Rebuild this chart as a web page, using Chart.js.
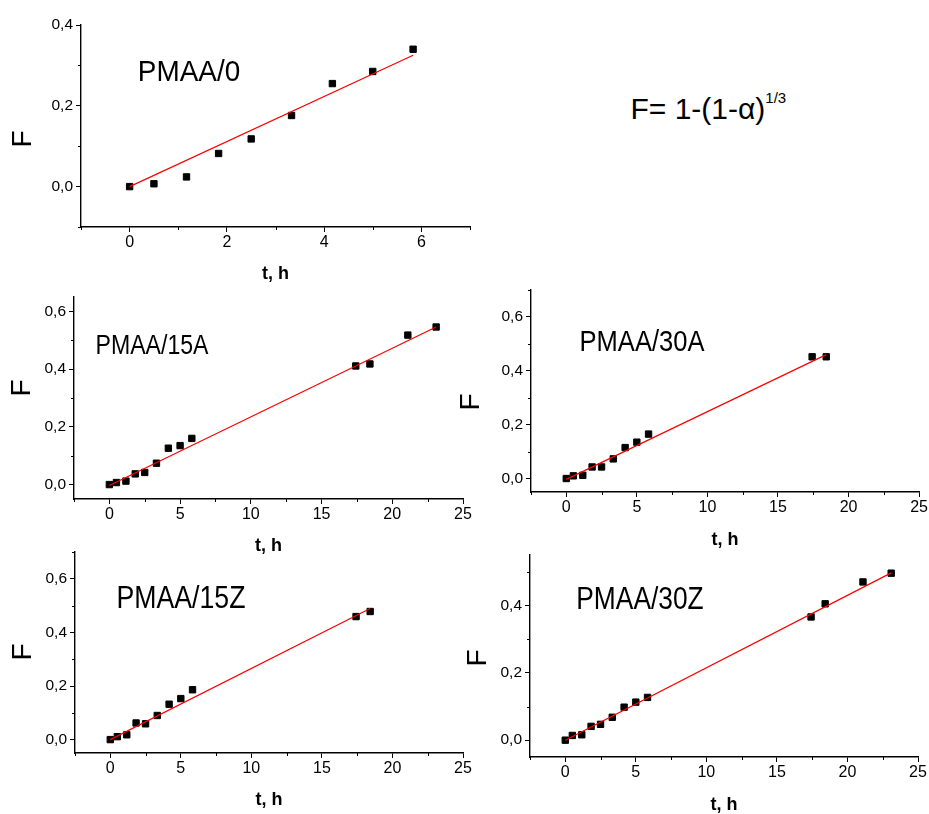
<!DOCTYPE html>
<html>
<head>
<meta charset="utf-8">
<script src="https://cdn.jsdelivr.net/npm/chart.js@4/dist/chart.umd.min.js"></script>
<style>
  html, body { margin:0; padding:0; background:#fff; width:929px; height:814px; overflow:hidden; }
  canvas { position:absolute; }
  .lbl { position:absolute; font-family:"Liberation Sans", Arial, sans-serif; color:#000; line-height:1; white-space:nowrap; }
</style>
</head>
<body>
<canvas id="c1"></canvas>
<canvas id="c2"></canvas>
<canvas id="c3"></canvas>
<canvas id="c4"></canvas>
<canvas id="c5"></canvas>
<div id="labels"></div>
<script>
// ---------------- DATA ----------------
const panelNames = ['PMAA/0', 'PMAA/15A', 'PMAA/30A', 'PMAA/15Z', 'PMAA/30Z'];
const xTitle = 't, h';
const yTitle = 'F';

const tShort  = [0, 0.5, 1.17, 1.83, 2.5, 3.33, 4.17, 5, 5.83];
const tMedium = [0, 0.5, 1.17, 1.83, 2.5, 3.33, 4.17, 5, 5.83, 17.42, 18.42];
const tLong   = [0, 0.5, 1.17, 1.83, 2.5, 3.33, 4.17, 5, 5.83, 17.42, 18.42, 21.1, 23.1];

const fPMAA0   = [0, 0.007, 0.024, 0.082, 0.118, 0.176, 0.255, 0.285, 0.34];
const fPMAA15A = [0, 0.007, 0.012, 0.037, 0.042, 0.074, 0.126, 0.135, 0.16, 0.411, 0.418, 0.518, 0.546];
const fPMAA30A = [0, 0.01, 0.012, 0.043, 0.043, 0.073, 0.115, 0.135, 0.165, 0.452, 0.452];
const fPMAA15Z = [0, 0.011, 0.018, 0.062, 0.059, 0.09, 0.132, 0.153, 0.186, 0.459, 0.478];
const fPMAA30Z = [0, 0.014, 0.016, 0.041, 0.047, 0.068, 0.098, 0.113, 0.127, 0.366, 0.405, 0.47, 0.496];

// fitted lines (end points)
const fitT0   = [0, 5.83];  const fitF0   = [0, 0.325];
const fitT15A = [0, 23.1];  const fitF15A = [-0.003, 0.546];
const fitT30A = [0, 18.42]; const fitF30A = [-0.003, 0.46];
const fitT15Z = [0, 18.42]; const fitF15Z = [0, 0.489];
const fitT30Z = [0, 23.1];  const fitF30Z = [0, 0.497];

// tick values
const xMajorShort = [0, 2, 4, 6];
const xMinorShort = [-1, 1, 3, 5, 7];
const xMajorLong  = [0, 5, 10, 15, 20, 25];
const xMinorLong  = [-2.5, 2.5, 7.5, 12.5, 17.5, 22.5];
const yMajor04 = [0, 0.2, 0.4];
const yMinor04 = [-0.1, 0.1, 0.3];
const yMajor06 = [0, 0.2, 0.4, 0.6];
const yMinor065 = [0.1, 0.3, 0.5];
const yMinor07 = [0.1, 0.3, 0.5, 0.7];
const yMajor05 = [0, 0.2, 0.4];
const yMinor055 = [0.1, 0.3, 0.5];

const formulaMain = 'F= 1-(1-\u03B1)';
const formulaSup = '1/3';

// ---------------- LAYOUT ----------------
const FONT = '"Liberation Sans", Arial, sans-serif';
const panels = [
  { id:'c1', t:tShort,  f:fPMAA0,   ft:fitT0,   ff:fitF0,   xr:[-1,7],    yr:[-0.1,0.4],
    xMaj:xMajorShort, xMin:xMinorShort, yMaj:yMajor04, yMin:yMinor04,
    canvas:{l:0, t:0, w:480, h:297},   plot:{l:81, r:470, t:25, b:227},  xTitleMid:273.7 },
  { id:'c2', t:tLong,   f:fPMAA15A, ft:fitT15A, ff:fitF15A, xr:[-2.5,25], yr:[-0.05,0.65],
    xMaj:xMajorLong, xMin:xMinorLong, yMaj:yMajor06, yMin:yMinor065,
    canvas:{l:0, t:280, w:480, h:289}, plot:{l:74, r:463, t:297, b:499}, xTitleMid:546 },
  { id:'c3', t:tMedium, f:fPMAA30A, ft:fitT30A, ff:fitF30A, xr:[-2.5,25], yr:[-0.05,0.7],
    xMaj:xMajorLong, xMin:xMinorLong, yMaj:yMajor06, yMin:yMinor07,
    canvas:{l:460, t:270, w:469, h:292}, plot:{l:531, r:920, t:290, b:492}, xTitleMid:540.3 },
  { id:'c4', t:tMedium, f:fPMAA15Z, ft:fitT15Z, ff:fitF15Z, xr:[-2.5,25], yr:[-0.05,0.7],
    xMaj:xMajorLong, xMin:xMinorLong, yMaj:yMajor06, yMin:yMinor07,
    canvas:{l:0, t:530, w:480, h:284}, plot:{l:75, r:463, t:552, b:753}, xTitleMid:800 },
  { id:'c5', t:tLong,   f:fPMAA30Z, ft:fitT30Z, ff:fitF30Z, xr:[-2.5,25], yr:[-0.05,0.55],
    xMaj:xMajorLong, xMin:xMinorLong, yMaj:yMajor05, yMin:yMinor055,
    canvas:{l:460, t:530, w:469, h:284}, plot:{l:530, r:918, t:555, b:757}, xTitleMid:805 }
];

const nameLabels = [
  { x:189,   y:71,    size:30, sx:0.93 },
  { x:151.5, y:345,   size:28, sx:0.825 },
  { x:641.5, y:340.5, size:29, sx:0.88 },
  { x:181,   y:596.5, size:31, sx:0.86 },
  { x:639.5, y:598,   size:31, sx:0.85 }
];
const fLabels = [ {x:22, y:139}, {x:21, y:388}, {x:470, y:402}, {x:22, y:652}, {x:477, y:658} ];

// ---------------- MINOR TICKS PLUGIN ----------------
const minorTicks = {
  id: 'minorTicks',
  afterDraw(chart, args, opts) {
    const { ctx, chartArea, scales } = chart;
    ctx.save();
    ctx.strokeStyle = '#000';
    ctx.lineWidth = 1;
    (opts.x || []).forEach(v => {
      const px = Math.round(scales.x.getPixelForValue(v)) + 0.5;
      ctx.beginPath();
      ctx.moveTo(px, chartArea.bottom);
      ctx.lineTo(px, chartArea.bottom + opts.len);
      ctx.stroke();
    });
    (opts.y || []).forEach(v => {
      const py = Math.round(scales.y.getPixelForValue(v)) + 0.5;
      ctx.beginPath();
      ctx.moveTo(chartArea.left, py);
      ctx.lineTo(chartArea.left - opts.len, py);
      ctx.stroke();
    });
    ctx.restore();
  }
};

function makeChart(P) {
  const cv = document.getElementById(P.id);
  cv.width = P.canvas.w; cv.height = P.canvas.h;
  cv.style.left = P.canvas.l + 'px'; cv.style.top = P.canvas.t + 'px';
  cv.style.width = P.canvas.w + 'px'; cv.style.height = P.canvas.h + 'px';

  const pts = P.t.map((tv, i) => ({ x: tv, y: P.f[i] }));
  const fit = P.ft.map((tv, i) => ({ x: tv, y: P.ff[i] }));
  const canvasBottom = P.canvas.t + P.canvas.h;
  const titleLH = 0.8, titleSize = 18;
  const titlePadBottom = Math.max(0, canvasBottom - P.xTitleMid - titleLH * titleSize / 2);

  const axisCommon = {
    type: 'linear',
    grid: { display: true, drawOnChartArea: false, drawTicks: true, tickLength: 5, color: '#000', lineWidth: 1 },
    border: { display: true, color: '#000', width: 1.4 }
  };

  new Chart(cv, {
    type: 'scatter',
    data: {
      datasets: [
        { label: 'fit', data: fit, showLine: true, borderColor: '#ff0000', borderWidth: 1.2,
          pointRadius: 0, fill: false, tension: 0, order: 0 },
        { label: 'F', data: pts, showLine: false, pointStyle: 'rect', pointRadius: 4.5,
          backgroundColor: '#000', borderColor: '#000', pointBackgroundColor: '#000',
          pointBorderColor: '#000', pointBorderWidth: 1, order: 1 }
      ]
    },
    options: {
      responsive: false, animation: false, devicePixelRatio: 1,
      layout: { padding: { left: 0, bottom: 0,
        top: P.plot.t - P.canvas.t,
        right: P.canvas.l + P.canvas.w - P.plot.r } },
      plugins: {
        legend: { display: false }, tooltip: { enabled: false },
        minorTicks: { x: P.xMin, y: P.yMin, len: 3 }
      },
      scales: {
        x: Object.assign({}, axisCommon, {
          position: 'bottom', min: P.xr[0], max: P.xr[1],
          afterBuildTicks: s => { s.ticks = P.xMaj.map(v => ({ value: v })); },
          afterFit: s => { s.height = canvasBottom - P.plot.b; },
          ticks: { padding: 1, color: '#000', autoSkip: false, maxRotation: 0,
            font: { family: FONT, size: 16 }, callback: v => String(v) },
          title: { display: true, text: xTitle, color: '#000',
            font: { family: FONT, size: titleSize, weight: 'bold', lineHeight: titleLH },
            padding: { top: 0, bottom: titlePadBottom } }
        }),
        y: Object.assign({}, axisCommon, {
          position: 'left', min: P.yr[0], max: P.yr[1],
          afterBuildTicks: s => { s.ticks = P.yMaj.map(v => ({ value: v })); },
          afterFit: s => { s.width = P.plot.l - P.canvas.l; },
          ticks: { padding: 3, color: '#000', autoSkip: false,
            font: { family: FONT, size: 15.5 }, callback: v => Number(v).toFixed(1).replace('.', ',') },
          title: { display: false }
        })
      }
    },
    plugins: [minorTicks]
  });
}

panels.forEach(makeChart);

// ---------------- TEXT LABELS ----------------
const box = document.getElementById('labels');
nameLabels.forEach((L, i) => {
  const d = document.createElement('div');
  d.className = 'lbl';
  d.textContent = panelNames[i];
  d.style.fontSize = L.size + 'px';
  d.style.left = L.x + 'px'; d.style.top = L.y + 'px';
  d.style.transform = 'translate(-50%,-50%) scaleX(' + L.sx + ')';
  box.appendChild(d);
});
fLabels.forEach(L => {
  const d = document.createElement('div');
  d.className = 'lbl';
  d.textContent = yTitle;
  d.style.fontSize = '28px';
  d.style.left = L.x + 'px'; d.style.top = L.y + 'px';
  d.style.transform = 'translate(-50%,-50%) rotate(-90deg)';
  box.appendChild(d);
});
const fm = document.createElement('div');
fm.className = 'lbl';
fm.style.fontSize = '30px'; fm.style.lineHeight = '30px';
fm.style.left = '630.5px'; fm.style.top = '89.6px';
fm.appendChild(document.createTextNode(formulaMain));
const sup = document.createElement('span');
sup.textContent = formulaSup;
sup.style.fontSize = '15px';
sup.style.verticalAlign = '16px';
sup.style.lineHeight = '1';
fm.appendChild(sup);
box.appendChild(fm);
</script>
</body>
</html>
